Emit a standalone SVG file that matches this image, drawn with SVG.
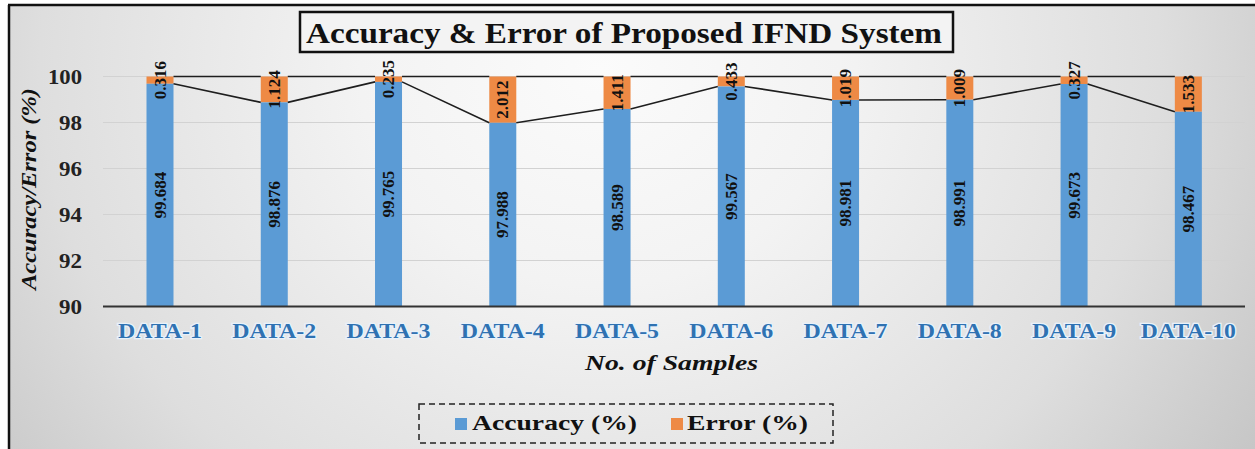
<svg xmlns="http://www.w3.org/2000/svg" width="1255" height="449" viewBox="0 0 1255 449" font-family="'Liberation Serif', 'Times New Roman', serif">
<defs>
<radialGradient id="bg" gradientUnits="userSpaceOnUse" cx="600" cy="70" r="800" gradientTransform="translate(600,70) scale(1,0.9) translate(-600,-70)">
<stop offset="0" stop-color="#fbfbfb"/>
<stop offset="0.3" stop-color="#f3f3f3"/>
<stop offset="0.7" stop-color="#dedede"/>
<stop offset="1" stop-color="#c4c4c4"/>
</radialGradient>
<style>
.serif{font-family:'Liberation Serif','Times New Roman',serif;font-weight:bold}
.tick{font-size:21px;fill:#222;text-anchor:end}
.xl{font-size:20px;fill:#2f72b2;text-anchor:middle;stroke:#e8f1fa;stroke-width:2.5px;paint-order:stroke}
.grid{stroke:#d2d2d2;stroke-width:1.2}
.acc{fill:#5b9bd5}
.err{fill:#ee8a45}
.dl{font-size:17px;fill:#111;text-anchor:middle;dominant-baseline:central}
.sl{stroke:#1e1e1e;stroke-width:1.6;fill:none}
.leg{font-size:22px;fill:#111}
</style>
</defs>
<rect x="0" y="0" width="1255" height="449" fill="#ffffff"/>
<rect x="9" y="5" width="1246" height="444" fill="url(#bg)"/>
<path d="M8 5 H1255 M9 5 V449" stroke="#111" stroke-width="2.5" fill="none"/>

<g id="title">
<rect x="300" y="12" width="653" height="40" fill="#f3f3f3" stroke="#111" stroke-width="2.5"/>
<text class="serif" x="306" y="43" font-size="30" textLength="636" lengthAdjust="spacingAndGlyphs" fill="#111">Accuracy &amp; Error of Proposed IFND System</text>
</g>

<g id="y-axis">
<line class="grid" x1="103" y1="76.5" x2="1245" y2="76.5"/>
<line class="grid" x1="103" y1="122.5" x2="1245" y2="122.5"/>
<line class="grid" x1="103" y1="168.5" x2="1245" y2="168.5"/>
<line class="grid" x1="103" y1="214.5" x2="1245" y2="214.5"/>
<line class="grid" x1="103" y1="260.5" x2="1245" y2="260.5"/>
<text class="serif tick" x="82" y="83.5" textLength="34" lengthAdjust="spacingAndGlyphs">100</text>
<text class="serif tick" x="82" y="129.5" textLength="23" lengthAdjust="spacingAndGlyphs">98</text>
<text class="serif tick" x="82" y="175.5" textLength="23" lengthAdjust="spacingAndGlyphs">96</text>
<text class="serif tick" x="82" y="221.5" textLength="23" lengthAdjust="spacingAndGlyphs">94</text>
<text class="serif tick" x="82" y="267.5" textLength="23" lengthAdjust="spacingAndGlyphs">92</text>
<text class="serif tick" x="82" y="313.5" textLength="23" lengthAdjust="spacingAndGlyphs">90</text>
<text class="serif" transform="translate(36,189) rotate(-90)" font-size="21" font-style="italic" text-anchor="middle" textLength="202" lengthAdjust="spacingAndGlyphs" fill="#111">Accuracy/Error (%)</text>
</g>

<g id="bar-1"><rect class="err" x="146.5" y="76.5" width="27" height="7.27"/><rect class="acc" x="146.5" y="83.77" width="27" height="222.73"/><text class="serif dl" transform="translate(160,195.1) rotate(-90)">99.684</text><text class="serif dl" transform="translate(160,80.1) rotate(-90)">0.316</text></g>
<g id="bar-2"><rect class="err" x="260.76" y="76.5" width="27" height="25.85"/><rect class="acc" x="260.76" y="102.35" width="27" height="204.15"/><text class="serif dl" transform="translate(274.26,204.4) rotate(-90)">98.876</text><text class="serif dl" transform="translate(274.26,89.4) rotate(-90)">1.124</text></g>
<g id="bar-3"><rect class="err" x="375.02" y="76.5" width="27" height="5.4"/><rect class="acc" x="375.02" y="81.9" width="27" height="224.6"/><text class="serif dl" transform="translate(388.52,194.2) rotate(-90)">99.765</text><text class="serif dl" transform="translate(388.52,79.2) rotate(-90)">0.235</text></g>
<g id="bar-4"><rect class="err" x="489.28" y="76.5" width="27" height="46.28"/><rect class="acc" x="489.28" y="122.78" width="27" height="183.72"/><text class="serif dl" transform="translate(502.78,214.6) rotate(-90)">97.988</text><text class="serif dl" transform="translate(502.78,99.6) rotate(-90)">2.012</text></g>
<g id="bar-5"><rect class="err" x="603.54" y="76.5" width="27" height="32.45"/><rect class="acc" x="603.54" y="108.95" width="27" height="197.55"/><text class="serif dl" transform="translate(617.04,207.7) rotate(-90)">98.589</text><text class="serif dl" transform="translate(617.04,92.7) rotate(-90)">1.411</text></g>
<g id="bar-6"><rect class="err" x="717.8" y="76.5" width="27" height="9.96"/><rect class="acc" x="717.8" y="86.46" width="27" height="220.04"/><text class="serif dl" transform="translate(731.3,196.5) rotate(-90)">99.567</text><text class="serif dl" transform="translate(731.3,81.5) rotate(-90)">0.433</text></g>
<g id="bar-7"><rect class="err" x="832.06" y="76.5" width="27" height="23.44"/><rect class="acc" x="832.06" y="99.94" width="27" height="206.56"/><text class="serif dl" transform="translate(845.56,203.2) rotate(-90)">98.981</text><text class="serif dl" transform="translate(845.56,88.2) rotate(-90)">1.019</text></g>
<g id="bar-8"><rect class="err" x="946.32" y="76.5" width="27" height="23.21"/><rect class="acc" x="946.32" y="99.71" width="27" height="206.79"/><text class="serif dl" transform="translate(959.82,203.1) rotate(-90)">98.991</text><text class="serif dl" transform="translate(959.82,88.1) rotate(-90)">1.009</text></g>
<g id="bar-9"><rect class="err" x="1060.58" y="76.5" width="27" height="7.52"/><rect class="acc" x="1060.58" y="84.02" width="27" height="222.48"/><text class="serif dl" transform="translate(1074.08,195.3) rotate(-90)">99.673</text><text class="serif dl" transform="translate(1074.08,80.3) rotate(-90)">0.327</text></g>
<g id="bar-10"><rect class="err" x="1174.84" y="76.5" width="27" height="35.26"/><rect class="acc" x="1174.84" y="111.76" width="27" height="194.74"/><text class="serif dl" transform="translate(1188.34,209.1) rotate(-90)">98.467</text><text class="serif dl" transform="translate(1188.34,94.1) rotate(-90)">1.533</text></g>

<g id="connectors">
<path class="sl" d="M173.5 76.5 H260.76 M287.76 76.5 H375.02 M402.02 76.5 H489.28 M516.28 76.5 H603.54 M630.54 76.5 H717.8 M744.8 76.5 H832.06 M859.06 76.5 H946.32 M973.32 76.5 H1060.58 M1087.58 76.5 H1174.84"/>
<path class="sl" d="M173.5 83.77 L260.76 102.35 M287.76 102.35 L375.02 81.9 M402.02 81.9 L489.28 122.78 M516.28 122.78 L603.54 108.95 M630.54 108.95 L717.8 86.46 M744.8 86.46 L832.06 99.94 M859.06 99.94 L946.32 99.71 M973.32 99.71 L1060.58 84.02 M1087.58 84.02 L1174.84 111.76"/>
</g>

<g id="x-axis">
<line x1="103" y1="306.5" x2="1245" y2="306.5" stroke="#333" stroke-width="2.2"/>
<text class="serif xl" x="160" y="338" textLength="84" lengthAdjust="spacingAndGlyphs">DATA-1</text>
<text class="serif xl" x="274.26" y="338" textLength="84" lengthAdjust="spacingAndGlyphs">DATA-2</text>
<text class="serif xl" x="388.52" y="338" textLength="84" lengthAdjust="spacingAndGlyphs">DATA-3</text>
<text class="serif xl" x="502.78" y="338" textLength="84" lengthAdjust="spacingAndGlyphs">DATA-4</text>
<text class="serif xl" x="617.04" y="338" textLength="84" lengthAdjust="spacingAndGlyphs">DATA-5</text>
<text class="serif xl" x="731.3" y="338" textLength="84" lengthAdjust="spacingAndGlyphs">DATA-6</text>
<text class="serif xl" x="845.56" y="338" textLength="84" lengthAdjust="spacingAndGlyphs">DATA-7</text>
<text class="serif xl" x="959.82" y="338" textLength="84" lengthAdjust="spacingAndGlyphs">DATA-8</text>
<text class="serif xl" x="1074.08" y="338" textLength="84" lengthAdjust="spacingAndGlyphs">DATA-9</text>
<text class="serif xl" x="1188.34" y="338" textLength="95" lengthAdjust="spacingAndGlyphs">DATA-10</text>
<text class="serif" x="671.5" y="370" font-size="22" font-style="italic" text-anchor="middle" textLength="173" lengthAdjust="spacingAndGlyphs" fill="#111">No. of Samples</text>
</g>

<g id="legend">
<rect x="419" y="404" width="414" height="39" fill="none" stroke="#222" stroke-width="1.5" stroke-dasharray="6,4"/>
<rect class="acc" x="455" y="418" width="12" height="12"/>
<text class="serif leg" x="472" y="430" textLength="165" lengthAdjust="spacingAndGlyphs">Accuracy (%)</text>
<rect class="err" x="671" y="418" width="12" height="12"/>
<text class="serif leg" x="687" y="430" textLength="121" lengthAdjust="spacingAndGlyphs">Error (%)</text>
</g>
</svg>
